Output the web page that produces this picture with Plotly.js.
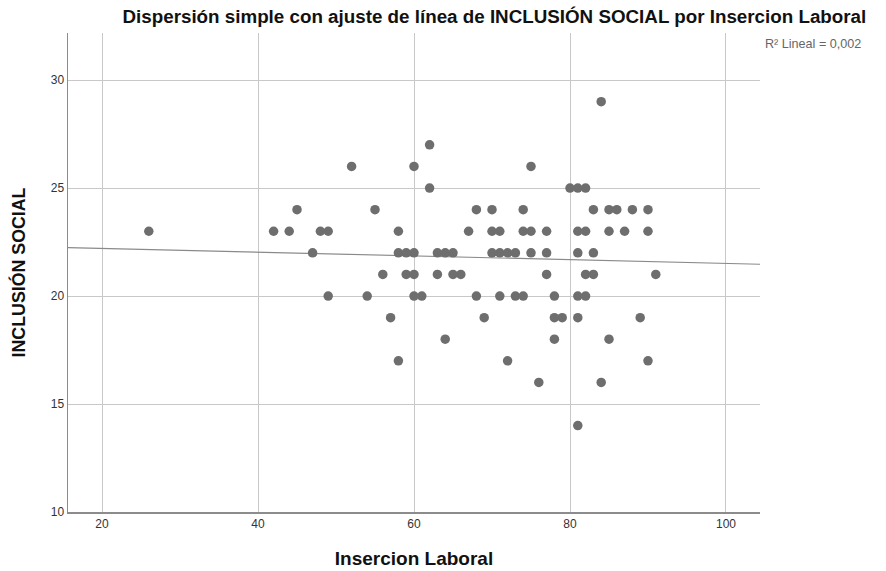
<!DOCTYPE html>
<html>
<head>
<meta charset="utf-8">
<script src="https://cdn.plot.ly/plotly-3.0.1.min.js"></script>
<style>html,body{margin:0;padding:0;background:#fff;}#chart{width:886px;height:571px;}</style>
</head>
<body>
<div id="chart"></div>
<script>
// Data
const insercionLaboral = [26,42,44,45,47,48,49,49,52,54,55,56,57,58,58,58,59,59,60,60,60,60,61,62,62,63,63,64,64,65,65,66,67,68,68,69,70,70,70,71,71,71,72,72,73,73,74,74,74,75,75,75,76,77,77,77,78,78,78,79,80,81,81,81,81,81,81,82,82,82,82,83,83,83,84,84,85,85,85,86,87,88,89,90,90,90,91];
const inclusionSocial = [23,23,23,24,22,23,23,20,26,20,24,21,19,23,22,17,22,21,26,22,21,20,20,27,25,22,21,22,18,22,21,21,23,24,20,19,24,23,22,23,22,20,22,17,22,20,24,23,20,26,23,22,16,23,22,21,20,19,18,19,25,25,23,22,20,19,14,25,23,21,20,24,22,21,29,16,24,23,18,24,23,24,19,24,23,17,21];
const xTicks = [20,40,60,80,100];
const yTicks = [10,15,20,25,30];
const xRange = [15.64, 104.36];
const yRange = [10, 32.18];
// Linear fit (hidden overlapping points make it differ from the visible dots)
const fitIntercept = 22.38;
const fitSlope = -0.0087;
const r2Label = 'R² Lineal = 0,002';

const fitX = xRange.slice();
const fitY = fitX.map(x => fitIntercept + fitSlope*x);

const traces = [
  {x: fitX, y: fitY, mode:'lines', type:'scatter', line:{color:'#8a8a8a', width:1.2}, hoverinfo:'skip'},
  {x: insercionLaboral, y: inclusionSocial, mode:'markers', type:'scatter',
   marker:{color:'#6e6e6e', size:9.5, line:{width:0}}}
];

const layout = {
  width: 886, height: 571,
  margin: {l:68, r:126, t:33, b:59},
  paper_bgcolor:'#ffffff', plot_bgcolor:'#ffffff',
  showlegend:false,
  font:{family:'Liberation Sans, Arial, sans-serif', color:'#333'},
  title:{text:'<b>Dispersión simple con ajuste de línea de INCLUSIÓN SOCIAL por Insercion Laboral</b>',
    font:{size:18.8, color:'#111', family:'Liberation Sans, Arial, sans-serif'},
    xref:'container', x:0.558, xanchor:'center', yref:'container', y:0.972, yanchor:'middle'},
  xaxis:{range:xRange, tickvals:xTicks, ticktext:xTicks.map(String), showgrid:true, gridcolor:'#c8c8c8', gridwidth:1,
    zeroline:false, showline:true, linecolor:'#8c8c8c', linewidth:1.5, mirror:false, ticks:'', ticklen:0,
    tickfont:{size:12, color:'#333'},
    title:{text:'<b>Insercion Laboral</b>', font:{size:19, color:'#111'}, standoff:22}},
  yaxis:{range:yRange, tickvals:yTicks, ticktext:yTicks.map(String), showgrid:true, gridcolor:'#c8c8c8', gridwidth:1,
    zeroline:false, showline:true, linecolor:'#8c8c8c', linewidth:1.5, ticks:'', ticklen:0,
    tickfont:{size:12, color:'#333'},
    title:{text:'<b>INCLUSIÓN SOCIAL</b>', font:{size:17.8, color:'#111'}, standoff:20}},
  annotations:[{text:r2Label, xref:'paper', yref:'paper', x:1.004, y:0.976, xanchor:'left', yanchor:'middle',
    showarrow:false, font:{size:12.6, color:'#666'}}]
};

Plotly.newPlot('chart', traces, layout, {displayModeBar:false, staticPlot:true});
</script>
</body>
</html>
